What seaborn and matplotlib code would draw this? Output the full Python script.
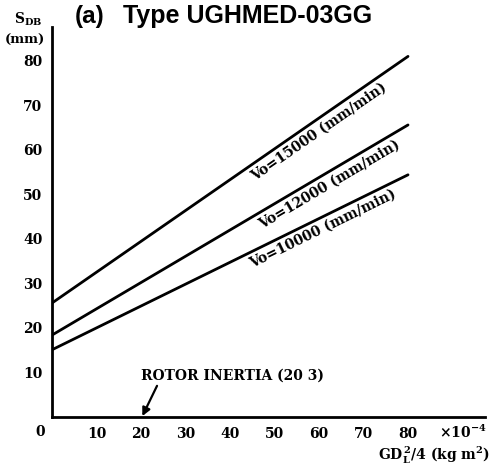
import numpy as np
import pandas as pd
import matplotlib
matplotlib.use("Agg")
import matplotlib.pyplot as plt
import seaborn as sns

# values (x in units of 1e-4 kg m^2, y in mm)
gd = [0, 80]
s_15000 = [25.6, 81.0]
s_12000 = [18.4, 65.6]
s_10000 = [15.1, 54.4]
speeds = ["15000", "12000", "10000"]
x_ticks = [10, 20, 30, 40, 50, 60, 70, 80]
y_ticks = [10, 20, 30, 40, 50, 60, 70, 80]

rows = []
for name, vals in zip(speeds, [s_15000, s_12000, s_10000]):
    for x, y in zip(gd, vals):
        rows.append({"gd": x, "sdb": y, "vo": name})
df = pd.DataFrame(rows)

sns.set_style("white")
plt.rcParams["font.family"] = ["DejaVu Serif"]
plt.rcParams["mathtext.fontset"] = "dejavuserif"
plt.rcParams["text.color"] = "black"

fig = plt.figure(figsize=(4.95, 4.67), dpi=100)
ax = fig.add_axes([52 / 495, 50 / 467, (485 - 52) / 495, (417 - 27) / 467])

sns.lineplot(data=df, x="gd", y="sdb", hue="vo", palette=["black"] * 3,
             linewidth=2.0, legend=False, ax=ax)

ax.set_xlim(0, 97.3)
ax.set_ylim(0, 87.6)
ax.set_xlabel("")
ax.set_ylabel("")
for s in ["top", "right"]:
    ax.spines[s].set_visible(False)
for s in ["left", "bottom"]:
    ax.spines[s].set_linewidth(2.0)
    ax.spines[s].set_color("black")

ax.set_xticks(x_ticks + [90])
ax.set_xticklabels([str(v) for v in x_ticks] + [""])
ax.set_yticks(y_ticks)
ax.set_yticklabels([str(v) for v in y_ticks])
ax.tick_params(direction="in", length=5, width=1.5, colors="black",
               labelsize=10, pad=7)
for lab in ax.get_xticklabels() + ax.get_yticklabels():
    lab.set_fontweight("bold")

# corner zero and multiplier
ax.text(-2.6, -3.4, "0", ha="center", va="center", fontsize=10,
        fontweight="bold")
ax.text(92.3, -3.4, "×10$^{\\mathbf{-4}}$", ha="center", va="center",
        fontsize=10, fontweight="bold", clip_on=False)
ax.text(98.5, -8.6, "GD$^{\\,\\mathbf{2}}_{\\mathbf{L}}$/4 (kg m$^{\\mathbf{2}}$)",
        ha="right", va="center", fontsize=10, fontweight="bold",
        clip_on=False)

# y label
fig.text(28 / 495, 1 - 19 / 467, "S$_{\\mathbf{DB}}$", ha="center",
         va="center", fontsize=10, fontweight="bold")
fig.text(25 / 495, 1 - 40 / 467, "(mm)", ha="center", va="center",
         fontsize=9.5, fontweight="bold")

# title
title_font = ["Liberation Sans", "DejaVu Sans"]
fig.text(75 / 495, 1 - 16 / 467, "(a)", ha="left", va="center",
         fontsize=17.5, fontweight="bold", family=title_font)
fig.text(123 / 495, 1 - 16 / 467, "Type UGHMED-03GG", ha="left",
         va="center", fontsize=18, fontweight="bold", family=title_font)

# labels along the lines, set just below each line
fig.canvas.draw()
label_x = [58.6, 61.0, 59.8]
for name, vals, lx in zip(speeds, [s_15000, s_12000, s_10000], label_x):
    slope = (vals[1] - vals[0]) / (gd[1] - gd[0])
    ly = vals[0] + slope * lx
    p0 = ax.transData.transform((gd[0], vals[0]))
    p1 = ax.transData.transform((gd[1], vals[1]))
    ang = np.degrees(np.arctan2(p1[1] - p0[1], p1[0] - p0[0]))
    d = 8.0
    off = (np.sin(np.radians(ang)) * d, -np.cos(np.radians(ang)) * d)
    ax.annotate("Vo=" + name + " (mm/min)", xy=(lx, ly), xytext=off,
                textcoords="offset points", ha="center", va="center",
                rotation=ang, rotation_mode="anchor", fontsize=10,
                fontweight="bold")

# rotor inertia marker
ax.text(20.0, 9.2, "ROTOR INERTIA (20 3)", ha="left", va="center",
        fontsize=10, fontweight="bold")
ax.annotate("", xy=(20.3, 0.2), xytext=(23.6, 7.0),
            arrowprops=dict(arrowstyle="-|>", color="black", lw=1.6,
                            shrinkA=0, shrinkB=0, mutation_scale=12))

fig.savefig("out.png", dpi=100)
